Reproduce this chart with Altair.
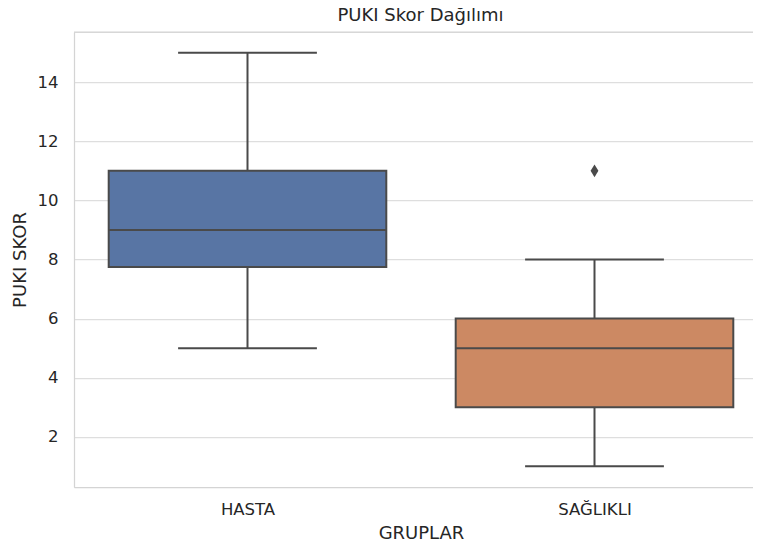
import altair as alt
import pandas as pd

# ---- data ----
groups = ["HASTA", "SAĞLIKLI"]
positions = [0, 1]
q1 = [7.75, 3.0]
median = [9.0, 5.0]
q3 = [11.0, 6.0]
whisker_low = [5.0, 1.0]
whisker_high = [15.0, 8.0]
box_colors = ["#5875a4", "#cc8963"]
outlier_pos = [1]
outlier_values = [11.0]
y_ticks = [2, 4, 6, 8, 10, 12, 14]

BOX_HALF = 0.4
CAP_HALF = 0.2
FONT = "DejaVu Sans"
LINE = "#4a4a4a"
TEXT = "#262626"
SPINE = "#d4d4d4"

W = 687
H = 455
PX_PER_UNIT = 347.0

df = pd.DataFrame({
    "group": groups, "pos": positions, "q1": q1, "median": median, "q3": q3,
    "lo": whisker_low, "hi": whisker_high, "color": box_colors,
})
df["box_l"] = df["pos"] - BOX_HALF
df["box_r"] = df["pos"] + BOX_HALF
df["cap_l"] = df["pos"] - CAP_HALF
df["cap_r"] = df["pos"] + CAP_HALF
out_df = pd.DataFrame({"pos": outlier_pos, "value": outlier_values})

xscale = alt.Scale(domain=[-0.5, -0.5 + W / PX_PER_UNIT], nice=False, zero=False)
yscale = alt.Scale(domain=[0.3, 15.7], nice=False, zero=False)

label_arr = "[" + ",".join("'" + g + "'" for g in groups) + "]"
xaxis = alt.Axis(
    title="GRUPLAR", values=positions, labelExpr=label_arr + "[datum.value]",
    grid=False, ticks=False, tickSize=0, domain=True, domainColor=SPINE, domainWidth=1.25,
    labelFont=FONT, labelFontSize=16.5, labelColor=TEXT, labelPadding=14,
    titleFont=FONT, titleFontSize=18, titleFontWeight="normal", titleColor=TEXT,
    titlePadding=7, titleX=347,
)
yaxis = alt.Axis(
    title="PUKI SKOR", values=y_ticks, grid=True, gridColor="#dedede", gridWidth=1.25,
    ticks=False, tickSize=0, domain=True, domainColor=SPINE, domainWidth=1.25,
    labelFont=FONT, labelFontSize=16.5, labelColor=TEXT, labelPadding=16,
    titleFont=FONT, titleFontSize=18, titleFontWeight="normal", titleColor=TEXT,
    titlePadding=8,
)

base = alt.Chart(df)

top_spine = alt.Chart(pd.DataFrame({"k": [0]})).mark_rule(
    color=SPINE, strokeWidth=1.25
).encode(x=alt.value(0), x2=alt.value(W), y=alt.value(0))

whisk = base.mark_rule(color=LINE, strokeWidth=2).encode(
    x=alt.X("pos:Q", scale=xscale, axis=xaxis),
    y=alt.Y("lo:Q", scale=yscale, axis=yaxis),
    y2="hi:Q",
)
box = base.mark_rect(stroke=LINE, strokeWidth=2).encode(
    x=alt.X("box_l:Q", scale=xscale, axis=xaxis),
    x2="box_r:Q",
    y=alt.Y("q1:Q", scale=yscale, axis=yaxis),
    y2="q3:Q",
    fill=alt.Fill("color:N", scale=None),
)
med = base.mark_rule(color=LINE, strokeWidth=2).encode(
    x=alt.X("box_l:Q", scale=xscale, axis=xaxis),
    x2="box_r:Q",
    y=alt.Y("median:Q", scale=yscale, axis=yaxis),
)
cap_hi = base.mark_rule(color=LINE, strokeWidth=2).encode(
    x=alt.X("cap_l:Q", scale=xscale, axis=xaxis),
    x2="cap_r:Q",
    y=alt.Y("hi:Q", scale=yscale, axis=yaxis),
)
cap_lo = base.mark_rule(color=LINE, strokeWidth=2).encode(
    x=alt.X("cap_l:Q", scale=xscale, axis=xaxis),
    x2="cap_r:Q",
    y=alt.Y("lo:Q", scale=yscale, axis=yaxis),
)
outl = alt.Chart(out_df).mark_point(
    shape="M0,-1L0.62,0L0,1L-0.62,0Z", filled=True, color=LINE, opacity=1, size=160,
).encode(
    x=alt.X("pos:Q", scale=xscale, axis=xaxis),
    y=alt.Y("value:Q", scale=yscale, axis=yaxis),
)

chart = alt.layer(whisk, box, med, cap_hi, cap_lo, outl, top_spine).properties(
    width=W, height=H,
    title=alt.TitleParams("PUKI Skor Dağılımı", font=FONT, fontSize=18,
                          fontWeight="normal", color=TEXT, offset=6, dx=3),
    autosize=alt.AutoSizeParams(type="none"),
    padding={"left": 66, "top": 24, "right": -8, "bottom": 54},
).configure_view(strokeOpacity=0, stroke="transparent").configure(background="white")

chart.save("out.html", embed_options={"renderer": "svg", "actions": False})
